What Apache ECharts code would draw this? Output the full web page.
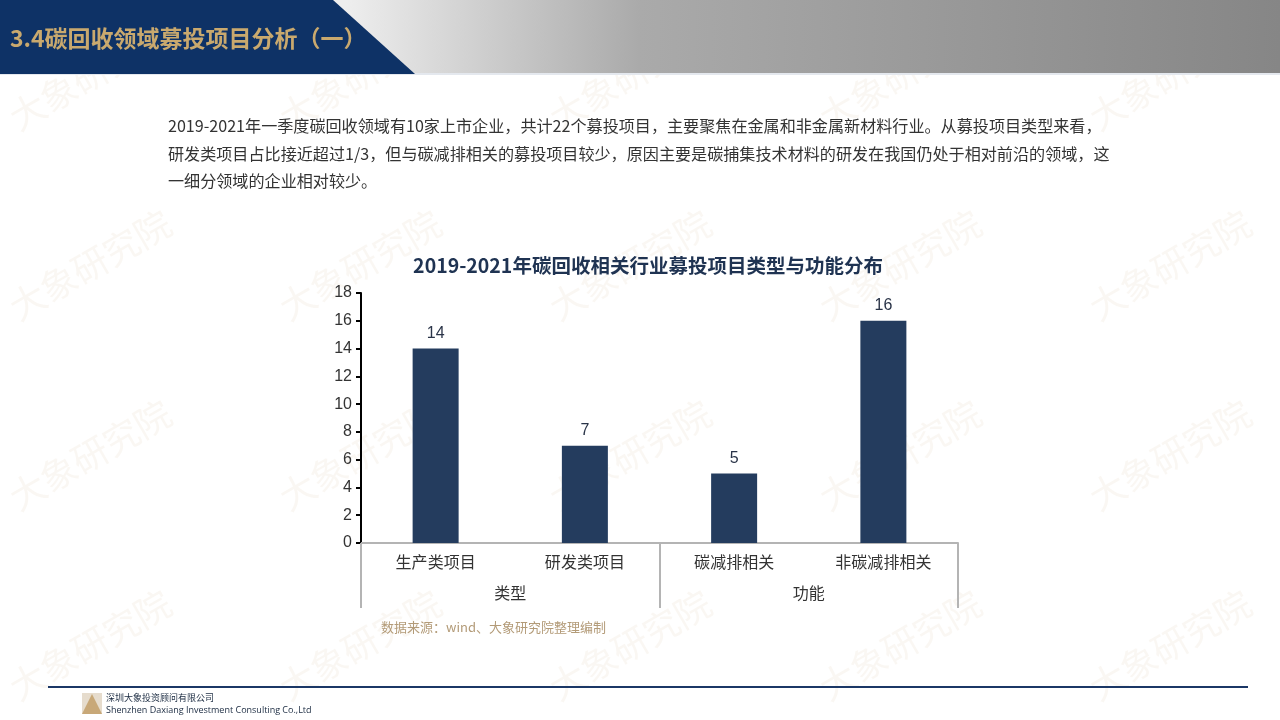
<!DOCTYPE html>
<html>
<head>
<meta charset="utf-8">
<script src="https://cdn.jsdelivr.net/npm/echarts@6/dist/echarts.min.js"></script>
<style>
html,body{margin:0;padding:0;background:#fff;}
#c{width:1280px;height:720px;}
</style>
</head>
<body>
<div id="c"></div>
<script>
const categories = ['生产类项目', '研发类项目', '碳减排相关', '非碳减排相关'];
const groups = ['类型', '功能'];
const values = [14, 7, 5, 16];
const yTicks = [0, 2, 4, 6, 8, 10, 12, 14, 16, 18];

const pageTitle = '3.4碳回收领域募投项目分析（一）';
const paragraph = [
  '2019-2021年一季度碳回收领域有10家上市企业，共计22个募投项目，主要聚焦在金属和非金属新材料行业。从募投项目类型来看，',
  '研发类项目占比接近超过1/3，但与碳减排相关的募投项目较少，原因主要是碳捕集技术材料的研发在我国仍处于相对前沿的领域，这',
  '一细分领域的企业相对较少。'
];
const chartTitle = '2019-2021年碳回收相关行业募投项目类型与功能分布';
const sourceText = '数据来源：wind、大象研究院整理编制';

const chart = echarts.init(document.getElementById('c'), null, {renderer: 'canvas'});

const wm = [];
const wmX = [90, 360, 630, 900, 1170];
const wmY = [75, 265, 455, 645];
wmY.forEach(y => wmX.forEach(x => {
  wm.push({
    type: 'text', x: x, y: y, rotation: 30 * Math.PI / 180, z: -10, silent: true,
    style: {text: '大象研究院', fill: 'rgba(200,165,120,0.09)', font: '36px "Noto Sans CJK SC"', align: 'center', verticalAlign: 'middle'}
  });
}));

const graphics = [
  {type: 'rect', shape: {x: 0, y: 0, width: 1280, height: 74}, z: 0,
   style: {fill: new echarts.graphic.LinearGradient(0, 0, 1, 0.3, [
     {offset: 0.27, color: '#eeeeee'}, {offset: 0.5, color: '#aaaaaa'}, {offset: 1, color: '#868686'}])}},
  {type: 'rect', shape: {x: 0, y: 73, width: 1280, height: 2}, z: 1, style: {fill: '#e4e8ee'}},
  {type: 'polygon', shape: {points: [[0, 0], [333, 0], [415, 74], [0, 74]]}, z: 2, style: {fill: '#0e3266'}},
  {type: 'text', x: 10, y: 38, z: 3,
   style: {text: pageTitle, fill: '#c9a96e', font: 'bold 23px "Noto Sans CJK SC"', verticalAlign: 'middle'}},
  ...paragraph.map((t, i) => ({type: 'text', x: 168, y: 126 + i * 27.5, z: 3,
    style: {text: t, fill: '#333333', font: '16.1px "Noto Sans CJK SC"', verticalAlign: 'middle'}})),
  {type: 'text', x: 381, y: 627, z: 3,
   style: {text: sourceText, fill: '#b39b78', font: '13px "Noto Sans CJK SC"', verticalAlign: 'middle'}},
  {type: 'rect', shape: {x: 48, y: 686, width: 1200, height: 2}, z: 3, style: {fill: '#1b3766'}},
  {type: 'rect', shape: {x: 82, y: 693, width: 20, height: 21}, z: 2, style: {fill: '#e6dccd'}},
  {type: 'polygon', shape: {points: [[82, 714], [92, 694], [102, 714]]}, z: 3, style: {fill: '#c8a878'}},
  {type: 'text', x: 106, y: 698, z: 3, style: {text: '深圳大象投资顾问有限公司', fill: '#1a2a40', font: '9px "Noto Sans CJK SC"', verticalAlign: 'middle'}},
  {type: 'text', x: 106, y: 710, z: 3, style: {text: 'Shenzhen Daxiang Investment Consulting Co.,Ltd', fill: '#1a2a40', font: '9px "Open Sans"', verticalAlign: 'middle'}},
  ...wm
];

chart.setOption({
  backgroundColor: '#ffffff',
  animation: false,
  title: {
    text: chartTitle, left: 643, top: 261, textAlign: 'center', textVerticalAlign: 'middle',
    textStyle: {fontFamily: 'Noto Sans CJK SC', fontWeight: 'bold', fontSize: 19.5, color: '#1f3352'}
  },
  grid: {left: 361, right: 322, top: 293, bottom: 177, containLabel: false},
  xAxis: [
    {type: 'category', data: categories, position: 'bottom',
     axisLine: {show: true, lineStyle: {color: '#b4b4b4', width: 2}},
     axisTick: {show: false},
     axisLabel: {margin: 11, fontSize: 16, color: '#333333', fontFamily: 'Noto Sans CJK SC'}},
    {type: 'category', data: groups, position: 'bottom', gridIndex: 0,
     axisLine: {show: false},
     axisTick: {show: true, length: 65, lineStyle: {color: '#b4b4b4', width: 2}},
     axisLabel: {margin: 42, fontSize: 16, color: '#333333', fontFamily: 'Noto Sans CJK SC'}}
  ],
  yAxis: {
    type: 'value', min: 0, max: 18, interval: 2,
    axisLine: {show: true, lineStyle: {color: '#000000', width: 2}},
    axisTick: {show: true, length: 5, lineStyle: {color: '#000000', width: 2}},
    splitLine: {show: false},
    axisLabel: {margin: 9, fontSize: 16, color: '#333333', fontFamily: 'Liberation Sans',
      formatter: v => yTicks.includes(v) ? String(v) : ''}
  },
  series: [{
    type: 'bar', data: values, xAxisIndex: 0, barWidth: 46,
    itemStyle: {color: '#243c5e'},
    label: {show: true, position: 'top', distance: 7, fontSize: 16, color: '#2a3448', fontFamily: 'Liberation Sans'}
  }],
  graphic: graphics
});
</script>
</body>
</html>
